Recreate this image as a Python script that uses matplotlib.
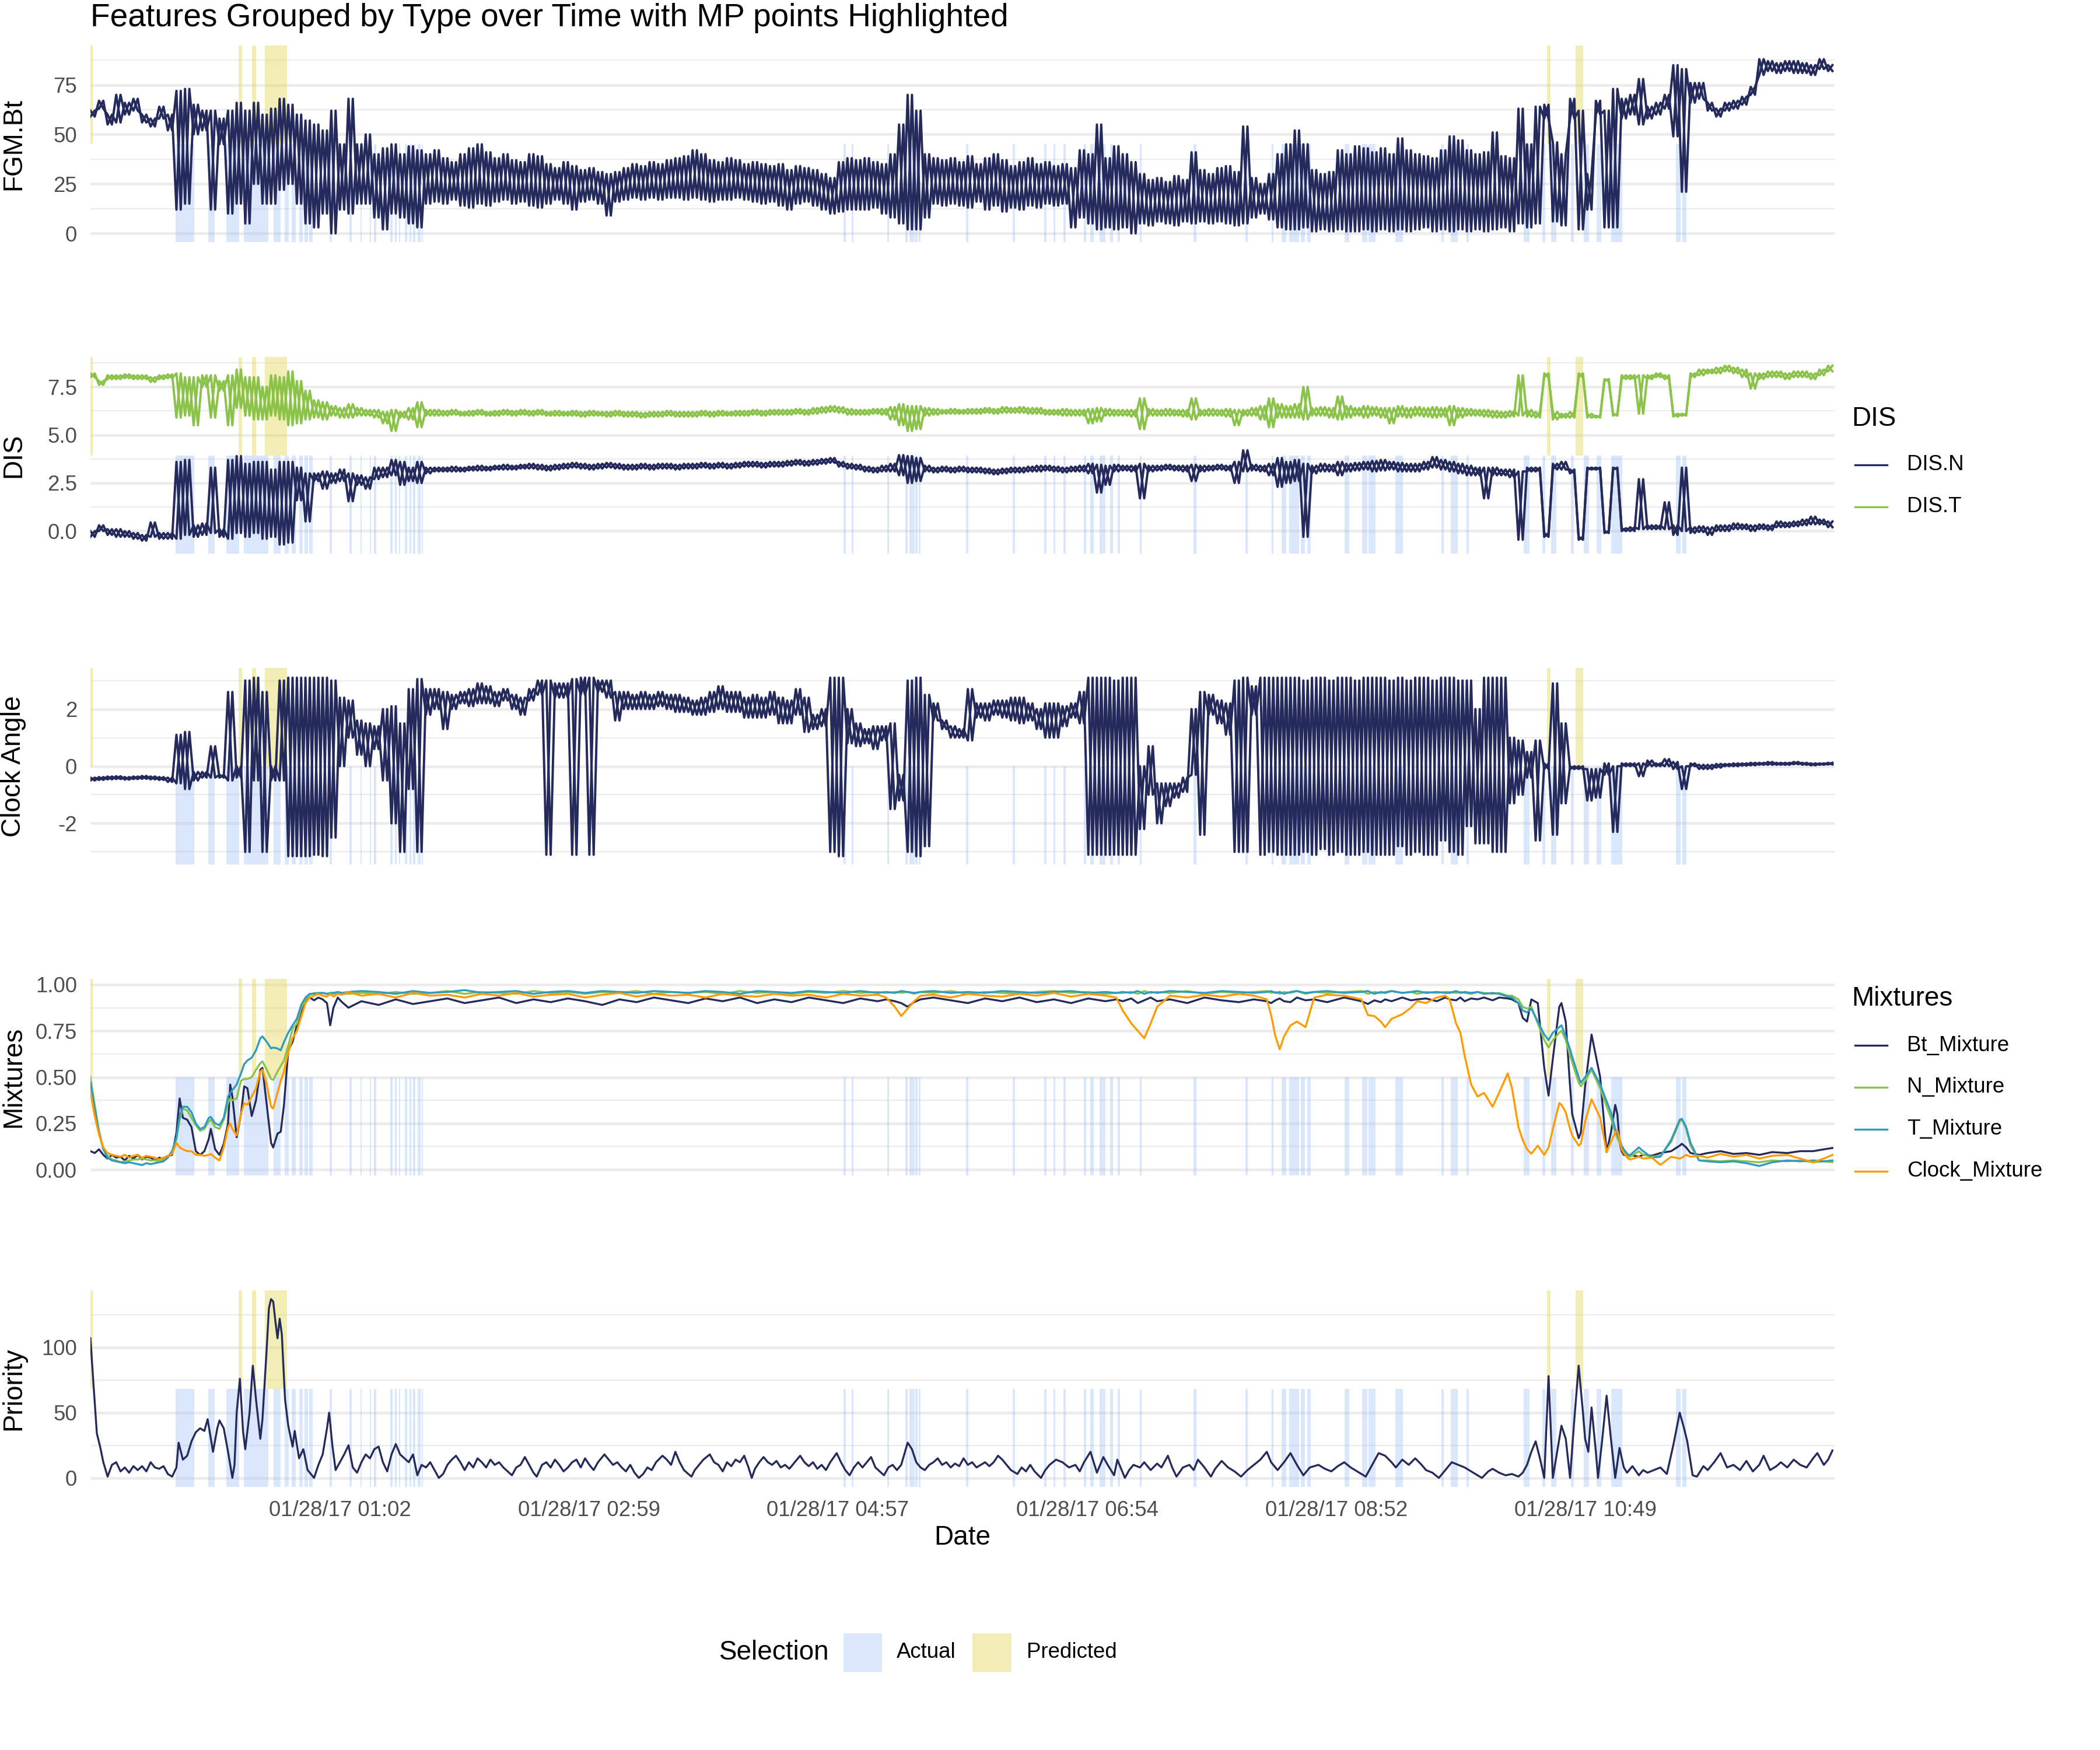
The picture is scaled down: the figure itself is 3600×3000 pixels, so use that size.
import numpy as np
import matplotlib
matplotlib.use("Agg")
import matplotlib.pyplot as plt
from matplotlib.lines import Line2D
from matplotlib.patches import Rectangle
from matplotlib.ticker import FixedLocator, FormatStrFormatter

plt.rcParams['font.family'] = ['Liberation Sans', 'DejaVu Sans']

# time axis: minutes from the first record (01/27/17 ~23:05)
step = 4  # minutes between envelope samples of the raw traces
tick_min = [116.0, 231.8, 347.6, 463.5, 579.4, 695.3]
tick_labels = ['01/28/17 01:02', '01/28/17 02:59', '01/28/17 04:57',
               '01/28/17 06:54', '01/28/17 08:52', '01/28/17 10:49']

# MP selections (minutes)
actual_start = [39.5, 54.8, 63.2, 71.3, 85.3, 90.3, 93.7, 97.1, 99.6, 101.8, 111.1, 120.5, 125.5,
                129.8, 131.7, 139.5, 141.7, 143.5, 146.3, 148.5, 150.1, 152.2, 154.1, 350.2, 354.0,
                370.5, 378.9, 380.8, 383.6, 385.1, 407.2, 428.7, 443.5, 447.8, 452.4, 461.8, 464.9,
                469.2, 474.2, 477.6, 487.9, 512.8, 537.1, 549.2, 553.9, 557.3, 562.9, 565.8, 583.2,
                591.3, 594.4, 606.8, 628.3, 632.4, 639.8, 666.3, 675.0, 679.1, 688.4, 694.3, 700.2,
                707.1, 737.3, 740.1]
actual_end = [48.3, 57.9, 69.1, 82.8, 88.4, 92.2, 95.6, 98.7, 101.2, 103.4, 112.4, 121.4, 126.1,
              130.4, 132.9, 140.4, 142.3, 144.1, 147.3, 149.1, 151.0, 153.5, 154.7, 351.2, 354.9,
              371.4, 380.1, 383.3, 384.5, 386.1, 408.2, 429.9, 444.5, 448.7, 453.4, 463.0, 466.4,
              472.0, 475.5, 478.6, 488.9, 514.4, 538.0, 550.2, 556.1, 562.0, 564.8, 567.3, 585.4,
              593.8, 597.5, 610.3, 629.3, 635.8, 640.8, 669.1, 676.6, 681.6, 689.7, 696.8, 702.4,
              712.4, 739.5, 742.0]
pred_start = [0.0, 69.0, 75.0, 81.0, 677.2, 690.6]
pred_end = [1.2, 70.4, 77.0, 91.5, 678.8, 694.0]

# FGM.Bt envelope (high / low per 4-minute sample)
fgm_hi = [62, 67, 60, 70, 66, 68, 60, 58, 64, 60,
          72, 73, 65, 62, 62, 58, 62, 66, 62, 66,
          60, 63, 68, 65, 60, 57, 55, 52, 62, 45,
          68, 45, 50, 40, 43, 45, 40, 44, 42, 40,
          42, 38, 36, 40, 43, 45, 41, 38, 40, 37,
          36, 40, 39, 35, 33, 36, 34, 32, 33, 31,
          30, 31, 33, 35, 34, 36, 35, 37, 38, 39,
          42, 40, 37, 36, 38, 37, 35, 36, 35, 34,
          35, 32, 34, 33, 32, 30, 28, 36, 38, 37,
          38, 36, 35, 40, 55, 70, 62, 40, 38, 37,
          38, 36, 39, 35, 38, 40, 37, 34, 36, 38,
          35, 36, 34, 35, 33, 42, 40, 55, 38, 44,
          40, 36, 30, 27, 28, 26, 29, 27, 41, 32,
          30, 33, 34, 31, 54, 28, 25, 30, 40, 45,
          52, 45, 32, 30, 31, 42, 40, 44, 43, 41,
          43, 40, 48, 42, 40, 39, 38, 42, 49, 47,
          42, 40, 41, 51, 39, 38, 63, 45, 64, 65,
          46, 40, 68, 62, 30, 67, 62, 73, 68, 70,
          78, 64, 66, 70, 85, 83, 76, 76, 66, 63,
          66, 67, 69, 74, 88, 87, 86, 87, 87, 86,
          85, 88, 85]
fgm_lo = [59, 63, 55, 56, 60, 62, 56, 54, 58, 52,
          12, 15, 50, 52, 12, 45, 10, 15, 5, 25,
          15, 15, 22, 25, 15, 5, 3, 10, 0, 12,
          10, 15, 15, 8, 2, 10, 8, 5, 3, 15,
          16, 15, 17, 14, 13, 15, 14, 16, 17, 15,
          16, 14, 13, 15, 17, 15, 12, 16, 17, 15,
          9, 16, 17, 18, 17, 18, 17, 18, 18, 17,
          18, 17, 16, 17, 17, 18, 17, 16, 15, 16,
          14, 12, 15, 16, 14, 12, 10, 11, 12, 12,
          12, 13, 10, 8, 5, 2, 2, 8, 15, 14,
          15, 14, 13, 16, 12, 14, 11, 13, 12, 14,
          13, 15, 14, 15, 3, 8, 5, 2, 3, 2,
          3, 0, 5, 4, 6, 5, 4, 6, 5, 6,
          5, 6, 5, 4, 5, 8, 10, 7, 3, 2,
          2, 3, 1, 2, 1, 2, 1, 1, 2, 1,
          2, 1, 2, 1, 2, 3, 1, 2, 1, 2,
          1, 2, 1, 2, 3, 1, 5, 3, 5, 58,
          6, 4, 58, 2, 12, 60, 3, 3, 58, 60,
          55, 58, 60, 63, 49, 21, 66, 68, 62, 59,
          62, 63, 65, 70, 80, 82, 81, 82, 81, 81,
          80, 83, 82]

# DIS.T envelope
dist_hi = [8.2, 7.8, 8.1, 8.1, 8.15, 8.1, 8.1, 8.0, 8.1, 8.15,
           8.2, 8.0, 8.0, 8.1, 8.1, 7.8, 8.1, 8.4, 8.0, 8.0,
           7.5, 8.1, 8.0, 8.3, 7.8, 7.3, 6.8, 6.7, 6.5, 6.4,
           6.6, 6.4, 6.3, 6.3, 6.2, 6.3, 6.2, 6.4, 6.7, 6.3,
           6.3, 6.25, 6.3, 6.2, 6.25, 6.3, 6.2, 6.25, 6.3, 6.25,
           6.3, 6.25, 6.3, 6.2, 6.25, 6.2, 6.25, 6.2, 6.25, 6.2,
           6.2, 6.25, 6.2, 6.2, 6.15, 6.2, 6.2, 6.25, 6.2, 6.2,
           6.2, 6.25, 6.2, 6.25, 6.2, 6.25, 6.25, 6.3, 6.25, 6.3,
           6.3, 6.3, 6.35, 6.3, 6.4, 6.45, 6.5, 6.45, 6.35, 6.3,
           6.3, 6.35, 6.35, 6.45, 6.6, 6.5, 6.5, 6.4, 6.35, 6.3,
           6.35, 6.3, 6.35, 6.35, 6.4, 6.35, 6.45, 6.4, 6.45, 6.4,
           6.4, 6.3, 6.3, 6.35, 6.3, 6.3, 6.35, 6.4, 6.35, 6.3,
           6.3, 6.3, 6.9, 6.35, 6.3, 6.35, 6.3, 6.3, 6.9, 6.3,
           6.35, 6.3, 6.35, 6.3, 6.3, 6.4, 6.5, 6.9, 6.6, 6.5,
           6.6, 7.5, 6.4, 6.45, 6.4, 7.0, 6.5, 6.4, 6.5, 6.45,
           6.4, 6.4, 6.5, 6.4, 6.45, 6.4, 6.45, 6.4, 6.5, 6.4,
           6.35, 6.3, 6.3, 6.25, 6.2, 6.25, 8.1, 6.3, 6.2, 8.2,
           6.2, 6.1, 6.2, 8.2, 6.1, 6.0, 7.9, 6.1, 8.1, 8.1,
           8.1, 8.1, 8.2, 8.1, 6.1, 6.1, 8.2, 8.4, 8.4, 8.5,
           8.6, 8.5, 8.4, 8.2, 8.2, 8.3, 8.3, 8.2, 8.3, 8.3,
           8.2, 8.4, 8.6]
dist_lo = [8.0, 7.6, 7.9, 7.9, 7.95, 7.9, 7.9, 7.75, 7.9, 7.95,
           5.9, 6.0, 5.5, 7.5, 5.9, 7.3, 5.5, 6.4, 6.0, 5.8,
           5.8, 6.0, 5.8, 5.5, 5.6, 5.8, 5.9, 5.8, 6.0, 5.9,
           5.9, 6.0, 6.0, 5.9, 5.6, 5.2, 5.9, 5.8, 5.4, 6.0,
           6.0, 6.0, 6.05, 6.0, 6.0, 6.05, 6.0, 6.0, 6.05, 6.0,
           6.05, 6.0, 6.05, 6.0, 6.0, 6.0, 6.0, 5.95, 6.0, 6.0,
           5.95, 6.0, 5.95, 5.95, 5.9, 5.95, 5.95, 6.0, 5.95, 5.95,
           5.95, 6.0, 5.95, 6.0, 6.0, 6.0, 6.0, 6.05, 6.0, 6.05,
           6.05, 6.05, 6.1, 6.05, 6.1, 6.15, 6.2, 6.15, 6.05, 6.05,
           6.05, 6.1, 6.05, 5.8, 5.5, 5.2, 5.3, 6.0, 6.05, 6.1,
           6.1, 6.1, 6.1, 6.1, 6.15, 6.1, 6.15, 6.15, 6.15, 6.1,
           6.1, 6.05, 6.05, 6.0, 6.0, 6.0, 5.6, 5.7, 6.0, 6.0,
           6.0, 5.95, 5.3, 6.0, 6.0, 6.0, 6.0, 5.95, 5.8, 6.0,
           6.0, 6.0, 5.95, 5.5, 6.0, 6.0, 5.8, 5.4, 5.9, 5.9,
           5.9, 5.8, 6.0, 6.0, 5.9, 5.8, 5.9, 6.0, 5.9, 6.0,
           5.9, 5.6, 5.95, 5.9, 6.0, 5.95, 5.9, 5.95, 5.5, 5.9,
           6.0, 6.0, 5.95, 5.9, 5.9, 5.95, 6.0, 5.95, 5.9, 8.0,
           5.8, 5.9, 5.9, 8.0, 5.9, 5.9, 7.8, 6.0, 7.9, 7.9,
           6.1, 7.9, 8.0, 7.9, 5.95, 6.0, 8.0, 8.1, 8.2, 8.2,
           8.3, 8.2, 8.0, 7.4, 7.9, 8.0, 8.0, 7.9, 8.0, 8.0,
           7.9, 8.1, 8.3]

# DIS.N envelope
disn_hi = [0.0, 0.3, 0.1, 0.1, 0.0, -0.1, -0.2, 0.45, -0.1, -0.1,
           3.6, 3.7, 0.3, 0.4, 3.3, 0.1, 3.7, 3.9, 3.5, 3.6,
           3.6, 3.2, 3.6, 3.6, 3.3, 3.0, 3.0, 3.1, 3.0, 3.2,
           3.0, 2.9, 2.8, 3.3, 3.3, 3.7, 3.6, 3.3, 3.6, 3.3,
           3.3, 3.3, 3.35, 3.3, 3.35, 3.4, 3.35, 3.4, 3.45, 3.4,
           3.45, 3.5, 3.45, 3.4, 3.45, 3.5, 3.55, 3.5, 3.45, 3.5,
           3.55, 3.5, 3.45, 3.45, 3.5, 3.45, 3.5, 3.5, 3.45, 3.5,
           3.5, 3.55, 3.5, 3.55, 3.5, 3.55, 3.6, 3.6, 3.55, 3.6,
           3.6, 3.65, 3.7, 3.65, 3.7, 3.75, 3.8, 3.6, 3.5, 3.45,
           3.35, 3.3, 3.4, 3.5, 3.95, 3.9, 3.8, 3.4, 3.3, 3.35,
           3.3, 3.35, 3.3, 3.3, 3.25, 3.2, 3.25, 3.3, 3.3, 3.35,
           3.4, 3.4, 3.35, 3.3, 3.35, 3.4, 3.5, 3.45, 3.4, 3.45,
           3.4, 3.4, 3.5, 3.4, 3.4, 3.45, 3.4, 3.4, 3.45, 3.4,
           3.4, 3.45, 3.4, 3.6, 4.2, 3.45, 3.4, 3.5, 3.8, 3.6,
           3.7, 3.5, 3.4, 3.5, 3.45, 3.6, 3.5, 3.55, 3.6, 3.65,
           3.7, 3.6, 3.55, 3.5, 3.5, 3.6, 3.85, 3.7, 3.6, 3.5,
           3.4, 3.3, 3.3, 3.3, 3.2, 3.2, 3.1, 3.3, 3.3, -0.1,
           3.5, 3.6, 3.2, -0.3, 3.3, 3.3, 0.0, 3.3, 0.15, 0.2,
           2.7, 0.3, 0.3, 1.5, 0.3, 3.3, 0.2, 0.25, 0.2, 0.3,
           0.3, 0.4, 0.35, 0.3, 0.35, 0.3, 0.5, 0.45, 0.5, 0.6,
           0.75, 0.6, 0.5]
disn_lo = [-0.3, 0.0, -0.2, -0.3, -0.3, -0.4, -0.5, -0.3, -0.4, -0.4,
           -0.4, -0.2, -0.3, -0.2, -0.1, -0.3, -0.4, -0.1, -0.3, -0.1,
           -0.4, -0.3, -0.7, -0.6, 1.6, 0.5, 2.6, 2.2, 2.5, 2.6,
           1.55, 2.4, 2.2, 2.7, 2.8, 2.9, 2.4, 2.6, 2.5, 3.0,
           3.1, 3.1, 3.1, 3.1, 3.15, 3.15, 3.15, 3.2, 3.2, 3.2,
           3.25, 3.25, 3.2, 3.15, 3.2, 3.25, 3.3, 3.25, 3.2, 3.25,
           3.3, 3.25, 3.2, 3.2, 3.25, 3.2, 3.25, 3.25, 3.2, 3.25,
           3.25, 3.3, 3.25, 3.3, 3.25, 3.3, 3.35, 3.35, 3.3, 3.35,
           3.35, 3.4, 3.45, 3.4, 3.45, 3.5, 3.55, 3.35, 3.25, 3.2,
           3.1, 3.05, 3.1, 3.1, 2.9, 2.5, 2.6, 3.1, 3.05, 3.1,
           3.05, 3.1, 3.05, 3.05, 3.0, 2.95, 3.0, 3.05, 3.05, 3.1,
           3.1, 3.15, 3.1, 3.05, 3.1, 3.1, 3.0, 2.0, 2.4, 3.1,
           3.15, 3.1, 1.7, 3.1, 3.15, 3.2, 3.15, 3.1, 2.6, 3.1,
           3.15, 3.2, 3.15, 2.5, 3.1, 3.15, 3.1, 2.9, 2.3, 2.5,
           2.6, -0.3, 3.0, 3.1, 3.1, 2.9, 3.1, 3.15, 3.2, 3.1,
           3.15, 3.2, 3.1, 3.1, 3.1, 3.2, 3.3, 3.2, 3.1, 3.0,
           2.9, 2.9, 1.7, 2.9, 2.9, 2.8, -0.45, 3.1, 3.1, -0.3,
           3.2, 3.2, 3.0, -0.45, 3.2, 3.2, -0.1, 3.2, 0.0, 0.0,
           0.1, 0.1, 0.1, 0.1, -0.2, 0.0, -0.1, -0.05, -0.2, 0.0,
           0.0, 0.1, 0.1, 0.0, 0.1, 0.05, 0.2, 0.2, 0.25, 0.3,
           0.35, 0.35, 0.2]

# Clock Angle envelope
clock_hi = [-0.4, -0.38, -0.36, -0.35, -0.38, -0.36, -0.34, -0.36, -0.38, -0.4,
            1.1, 1.2, -0.2, -0.2, 0.7, -0.3, 2.6, 0.0, 3.0, 3.1,
            2.6, 0.0, 3.0, 3.1, 3.1, 3.1, 3.1, 3.1, 3.0, 2.4,
            2.3, 1.6, 1.5, 1.4, 2.0, 2.1, 1.5, 2.7, 3.05, 2.7,
            2.7, 2.6, 2.5, 2.6, 2.7, 2.9, 2.8, 2.6, 2.7, 2.5,
            2.4, 2.7, 3.0, 3.0, 2.9, 2.9, 3.05, 3.1, 3.1, 3.0,
            3.0, 2.6, 2.6, 2.5, 2.6, 2.5, 2.6, 2.5, 2.5, 2.4,
            2.3, 2.4, 2.6, 2.8, 2.6, 2.6, 2.4, 2.5, 2.4, 2.6,
            2.4, 2.3, 2.7, 2.4, 1.8, 2.0, 3.1, 3.1, 2.0, 1.5,
            1.3, 1.4, 1.4, 1.5, -0.3, 3.0, 3.1, 2.5, 2.2, 1.6,
            1.4, 1.3, 2.7, 2.2, 2.2, 2.3, 2.3, 2.4, 2.4, 2.2,
            2.0, 2.2, 2.2, 2.1, 2.2, 2.6, 3.1, 3.1, 3.1, 3.0,
            3.1, 3.1, 0.0, 0.7, -0.6, -0.6, -0.6, -0.4, 2.0, 2.6,
            2.5, 2.3, 2.2, 3.0, 3.1, 2.8, 3.1, 3.1, 3.1, 3.1,
            3.1, 3.0, 3.1, 3.1, 3.0, 3.1, 3.1, 3.0, 3.1, 3.1,
            3.1, 3.0, 3.1, 3.0, 3.1, 3.1, 3.0, 3.1, 3.1, 3.0,
            3.0, 2.0, 3.1, 3.1, 3.1, 1.0, 0.9, 0.5, 0.9, 0.1,
            2.9, 1.5, 0.0, 0.0, -0.1, -0.1, 0.1, 0.0, 0.1, 0.1,
            0.1, 0.2, 0.1, 0.25, 0.15, 0.0, 0.1, 0.05, 0.05, 0.08,
            0.08, 0.1, 0.1, 0.12, 0.12, 0.15, 0.12, 0.12, 0.15, 0.12,
            0.1, 0.1, 0.12]
clock_lo = [-0.5, -0.48, -0.46, -0.45, -0.47, -0.45, -0.44, -0.46, -0.48, -0.55,
            -0.6, -0.8, -0.5, -0.4, -0.4, -0.4, -0.5, -0.4, -3.0, -0.5,
            -3.0, -0.5, -0.5, -3.15, -3.15, -3.15, -3.1, -3.15, -2.5, 0.0,
            1.0, 0.4, 0.0, 0.6, -0.5, -2.0, -3.0, -0.8, -3.0, 1.8,
            2.0, 1.3, 2.0, 2.2, 2.1, 2.2, 2.2, 2.1, 2.3, 2.0,
            1.8, 2.3, 2.5, -3.1, 2.4, 2.4, -3.1, 2.5, -3.1, 2.6,
            2.4, 1.6, 2.0, 2.0, 2.0, 2.0, 2.1, 2.0, 1.9, 1.9,
            1.8, 1.8, 1.9, 2.0, 1.9, 1.9, 1.7, 1.7, 1.7, 1.8,
            1.5, 1.5, 1.8, 1.2, 1.3, 1.4, -3.0, -3.15, 0.8, 0.7,
            0.8, 0.6, 0.9, -1.5, -1.2, -3.0, -3.15, -2.8, 1.6, 1.3,
            1.0, 1.0, 0.9, 1.7, 1.6, 1.8, 1.7, 1.6, 1.5, 1.6,
            1.3, 1.0, 1.0, 1.4, 1.7, 1.5, -3.1, -3.1, -3.1, -3.1,
            -3.1, -3.1, -2.2, -1.0, -2.0, -1.4, -1.1, -0.9, -0.3, -2.4,
            1.8, 1.5, 1.1, -3.0, -3.0, 1.8, -3.1, -3.0, -3.1, -3.1,
            -3.1, -3.0, -3.1, -2.9, -3.1, -3.0, -3.1, -3.1, -3.0, -3.1,
            -3.1, -3.1, -2.8, -3.1, -3.0, -3.1, -3.1, -2.6, -3.0, -3.1,
            -2.1, -2.7, -2.7, -3.0, -3.0, -1.3, -1.0, -0.4, -2.6, -0.1,
            -2.4, -1.3, -0.1, -0.1, -1.2, -1.1, -0.3, -2.3, 0.0, 0.0,
            -0.35, 0.0, 0.0, 0.0, -0.1, -0.8, 0.0, -0.1, -0.1, -0.05,
            0.0, 0.0, 0.02, 0.03, 0.05, 0.05, 0.05, 0.05, 0.07, 0.05,
            0.03, 0.05, 0.06]

# Mixtures (smoothed, read at these minutes)
mix_t = [0, 2, 4, 6, 8, 10, 12, 14, 16, 18, 20, 22, 24, 26, 28, 30, 32, 34, 36, 38, 40,
         41.5, 43, 45, 47, 49, 51, 53, 55, 56, 58, 60, 62, 64, 65, 66, 68, 70, 71.5, 73, 75,
         77, 79, 80, 82, 84, 85, 87, 88.5, 90, 92, 94, 96, 98, 100, 102, 104, 106, 108, 110,
         111.5, 113, 115, 117, 120,
         126, 134, 142, 150, 158, 166, 174, 182, 190, 198, 206, 214, 222, 230, 238, 246, 254,
         262, 270, 278, 286, 294, 302, 310, 318, 326, 334, 342, 350, 358, 366,
         370, 374, 377, 380, 383, 386, 392, 400, 408, 416, 424, 432, 440, 448, 456, 464, 472, 477,
         480, 484, 487, 490, 493, 496, 502, 510, 518, 526, 534, 541, 547, 549, 551, 553, 555,
         558, 561, 565, 569, 575, 583, 591, 594, 597, 600, 602, 605, 610, 614, 617, 621, 626, 630,
         632, 635, 637, 639, 642, 645, 648, 652, 655, 659, 661, 664, 666, 668, 670, 673, 676,
         678, 680, 683, 684, 686, 688, 689, 692, 693, 695, 698, 702, 705, 707, 709, 710, 711,
         712, 713, 715, 716, 720,
         722, 726, 730, 735, 739, 740, 742, 744, 748, 752, 758, 764, 770, 776, 782, 789, 795,
         801, 806, 810]
bt_mix = [0.10, 0.09, 0.11, 0.08, 0.06, 0.08, 0.065, 0.07, 0.05, 0.075, 0.06, 0.08, 0.055, 0.07,
          0.065, 0.05, 0.065, 0.055, 0.075, 0.08, 0.20,
          0.385, 0.28, 0.27, 0.23, 0.10, 0.08, 0.10, 0.165, 0.22, 0.11, 0.08, 0.14, 0.25, 0.46,
          0.395, 0.175, 0.30, 0.45, 0.44, 0.29, 0.375, 0.54, 0.55, 0.35, 0.145, 0.12, 0.195,
          0.205, 0.35, 0.645, 0.69, 0.78, 0.845, 0.91, 0.93, 0.915, 0.93, 0.92, 0.90, 0.78,
          0.875, 0.93, 0.905, 0.875,
          0.91, 0.89, 0.92, 0.895, 0.91, 0.925, 0.90, 0.915, 0.93, 0.90, 0.92, 0.905, 0.925, 0.91,
          0.89, 0.92, 0.905, 0.93, 0.915, 0.90, 0.925, 0.91, 0.93, 0.90, 0.92, 0.905, 0.93, 0.915,
          0.90, 0.925, 0.91,
          0.92, 0.91, 0.90, 0.88, 0.905, 0.92, 0.93, 0.915, 0.90, 0.925, 0.91, 0.93, 0.905, 0.92,
          0.90, 0.925, 0.91, 0.92,
          0.91, 0.925, 0.90, 0.915, 0.93, 0.91, 0.92, 0.90, 0.93, 0.915, 0.905, 0.92, 0.91, 0.90,
          0.915, 0.925, 0.91, 0.905, 0.93, 0.915, 0.92, 0.905, 0.93, 0.91, 0.895, 0.915, 0.905,
          0.92, 0.91, 0.93, 0.915, 0.92, 0.925, 0.91, 0.93,
          0.92, 0.915, 0.93, 0.91, 0.925, 0.92, 0.93, 0.915, 0.93, 0.925, 0.92, 0.90, 0.82, 0.80,
          0.92, 0.90, 0.55, 0.40, 0.60, 0.88, 0.90, 0.80, 0.45, 0.30, 0.17, 0.20, 0.45, 0.73,
          0.50, 0.095, 0.20, 0.35, 0.30, 0.15, 0.10, 0.08, 0.075, 0.08, 0.07,
          0.08, 0.075, 0.09, 0.10, 0.13, 0.14, 0.12, 0.09, 0.08, 0.09, 0.10, 0.085, 0.09, 0.08,
          0.095, 0.09, 0.10, 0.10, 0.11, 0.117]
n_mix = [0.50, 0.35, 0.21, 0.11, 0.075, 0.055, 0.05, 0.04, 0.045, 0.05, 0.055, 0.055, 0.06, 0.055,
         0.05, 0.05, 0.045, 0.055, 0.07, 0.10, 0.165,
         0.27, 0.33, 0.32, 0.28, 0.24, 0.21, 0.22, 0.26, 0.27, 0.23, 0.22, 0.27, 0.36, 0.385,
         0.375, 0.385, 0.48, 0.49, 0.49, 0.50, 0.54, 0.575, 0.585, 0.54, 0.49, 0.485, 0.53,
         0.56, 0.59, 0.67, 0.76, 0.79, 0.875, 0.92, 0.945, 0.955, 0.95, 0.955, 0.95, 0.945,
         0.95, 0.955, 0.95, 0.95,
         0.955, 0.95, 0.96, 0.95, 0.955, 0.965, 0.95, 0.96, 0.955, 0.95, 0.965, 0.955, 0.96, 0.95,
         0.96, 0.955, 0.965, 0.95, 0.96, 0.955, 0.96, 0.95, 0.965, 0.955, 0.96, 0.95, 0.96, 0.955,
         0.965, 0.955, 0.96,
         0.955, 0.96, 0.955, 0.96, 0.95, 0.96, 0.955, 0.965, 0.95, 0.96, 0.955, 0.95, 0.96, 0.965,
         0.955, 0.96, 0.95, 0.955,
         0.955, 0.96, 0.95, 0.965, 0.955, 0.96, 0.955, 0.965, 0.95, 0.96, 0.955, 0.96, 0.965,
         0.955, 0.96, 0.95, 0.96, 0.955, 0.965, 0.95, 0.96, 0.955, 0.96, 0.965, 0.95, 0.96,
         0.955, 0.96, 0.965, 0.955, 0.96, 0.95, 0.96, 0.955, 0.96,
         0.96, 0.955, 0.96, 0.955, 0.95, 0.96, 0.955, 0.95, 0.955, 0.94, 0.94, 0.92, 0.88, 0.87,
         0.88, 0.79, 0.70, 0.66, 0.70, 0.74, 0.75, 0.70, 0.615, 0.58, 0.47, 0.45, 0.48, 0.54,
         0.44, 0.34, 0.28, 0.20, 0.17, 0.145, 0.12, 0.10, 0.07, 0.07, 0.10,
         0.08, 0.07, 0.075, 0.15, 0.26, 0.27, 0.22, 0.13, 0.05, 0.05, 0.045, 0.05, 0.045, 0.04,
         0.05, 0.045, 0.05, 0.04, 0.045, 0.04]
t_mix = [0.47, 0.33, 0.20, 0.11, 0.065, 0.05, 0.045, 0.04, 0.035, 0.04, 0.035, 0.03, 0.025, 0.035,
         0.03, 0.035, 0.04, 0.045, 0.065, 0.10, 0.175,
         0.29, 0.34, 0.34, 0.31, 0.25, 0.22, 0.23, 0.28, 0.285, 0.25, 0.24, 0.28, 0.395, 0.415,
         0.43, 0.46, 0.52, 0.57, 0.59, 0.605, 0.645, 0.71, 0.72, 0.69, 0.655, 0.66, 0.655,
         0.645, 0.69, 0.74, 0.78, 0.815, 0.89, 0.93, 0.95, 0.95, 0.955, 0.955, 0.95, 0.955,
         0.955, 0.96, 0.955, 0.96,
         0.965, 0.96, 0.95, 0.965, 0.955, 0.96, 0.97, 0.955, 0.96, 0.965, 0.95, 0.96, 0.965,
         0.955, 0.965, 0.96, 0.955, 0.965, 0.96, 0.955, 0.965, 0.96, 0.95, 0.965, 0.96, 0.955,
         0.965, 0.96, 0.955, 0.965, 0.955,
         0.96, 0.955, 0.965, 0.96, 0.955, 0.96, 0.965, 0.955, 0.96, 0.955, 0.965, 0.96, 0.955,
         0.96, 0.965, 0.955, 0.96, 0.955,
         0.96, 0.955, 0.965, 0.95, 0.96, 0.955, 0.965, 0.96, 0.955, 0.965, 0.96, 0.955, 0.96,
         0.965, 0.955, 0.96, 0.95, 0.96, 0.965, 0.955, 0.96, 0.965, 0.955, 0.96, 0.965, 0.95,
         0.96, 0.955, 0.965, 0.955, 0.96, 0.965, 0.955, 0.96, 0.955,
         0.955, 0.965, 0.955, 0.96, 0.955, 0.96, 0.95, 0.955, 0.95, 0.935, 0.93, 0.90, 0.86,
         0.85, 0.87, 0.80, 0.73, 0.70, 0.74, 0.77, 0.78, 0.72, 0.65, 0.61, 0.50, 0.47, 0.50,
         0.55, 0.46, 0.37, 0.31, 0.22, 0.19, 0.165, 0.13, 0.11, 0.08, 0.08, 0.12,
         0.10, 0.065, 0.07, 0.16, 0.27, 0.275, 0.23, 0.145, 0.05, 0.045, 0.04, 0.045, 0.035,
         0.02, 0.04, 0.05, 0.045, 0.05, 0.045, 0.05]
clock_mix = [0.42, 0.29, 0.19, 0.12, 0.09, 0.08, 0.075, 0.07, 0.08, 0.065, 0.075, 0.08, 0.065,
             0.075, 0.07, 0.065, 0.055, 0.065, 0.075, 0.085, 0.145,
             0.12, 0.11, 0.10, 0.10, 0.08, 0.08, 0.075, 0.08, 0.085, 0.065, 0.05, 0.12, 0.23,
             0.25, 0.22, 0.185, 0.30, 0.36, 0.35, 0.395, 0.44, 0.53, 0.54, 0.46, 0.34, 0.33,
             0.415, 0.48, 0.53, 0.635, 0.71, 0.75, 0.825, 0.90, 0.93, 0.94, 0.95, 0.94, 0.935,
             0.95, 0.935, 0.95, 0.945, 0.96,
             0.94, 0.95, 0.93, 0.955, 0.94, 0.945, 0.93, 0.95, 0.94, 0.955, 0.935, 0.945, 0.95,
             0.93, 0.945, 0.955, 0.935, 0.95, 0.94, 0.945, 0.93, 0.95, 0.94, 0.935, 0.95, 0.94,
             0.945, 0.93, 0.95, 0.94, 0.945,
             0.93, 0.88, 0.83, 0.87, 0.91, 0.94, 0.945, 0.93, 0.95, 0.94, 0.935, 0.95, 0.94,
             0.955, 0.935, 0.95, 0.94, 0.93,
             0.86, 0.79, 0.75, 0.71, 0.79, 0.88, 0.94, 0.93, 0.945, 0.935, 0.95, 0.94, 0.92,
             0.835, 0.72, 0.65, 0.72, 0.78, 0.80, 0.77, 0.93, 0.945, 0.94, 0.92, 0.835, 0.83,
             0.80, 0.77, 0.815, 0.84, 0.875, 0.91, 0.90, 0.93, 0.94,
             0.92, 0.79, 0.74, 0.615, 0.46, 0.395, 0.415, 0.34, 0.415, 0.52, 0.44, 0.23, 0.16,
             0.11, 0.086, 0.13, 0.08, 0.12, 0.22, 0.36, 0.35, 0.31, 0.22, 0.185, 0.13, 0.14,
             0.26, 0.38, 0.28, 0.095, 0.15, 0.20, 0.21, 0.17, 0.11, 0.09, 0.06, 0.055, 0.07,
             0.06, 0.065, 0.026, 0.07, 0.06, 0.065, 0.08, 0.07, 0.075, 0.065, 0.086, 0.07, 0.08,
             0.06, 0.075, 0.08, 0.06, 0.04, 0.06, 0.08]

# Priority (minute, value)
priority_pts = [
    (0, 107), (1.5, 70), (3, 34), (4.5, 24), (6, 12), (8, 1), (10, 10), (12, 12), (14, 5), (16, 8),
    (18, 4), (20, 9), (22, 6), (24, 9), (26, 5), (28, 12), (30, 8), (32, 7), (34, 9), (36, 3),
    (38, 1), (40, 8), (41, 27), (43, 14), (45, 17), (47, 28), (49, 35), (51, 38), (53, 36), (54.5, 45),
    (56, 30), (57, 20), (59, 38), (60, 44), (62, 38), (64, 20), (66, 0), (67, 10), (68, 50), (69.5, 76),
    (71, 35), (72, 22), (74, 50), (75.5, 86), (77, 60), (79, 30), (80, 45), (82, 100), (83, 130), (84, 137),
    (85, 135), (86, 120), (87, 107), (88, 122), (89, 110), (90.5, 60), (92, 40), (94, 24), (95, 36), (97, 15),
    (99, 22), (101, 6), (104, 0), (106, 10), (108, 18), (110, 38), (111, 50), (112.5, 25), (114, 6), (116, 12),
    (118, 18), (120, 25), (122, 8), (124, 4), (126, 12), (128, 18), (130, 15), (132, 22), (134, 24), (136, 12),
    (138, 5), (140, 18), (142, 26), (144, 18), (146, 15), (148, 12), (150, 18), (152, 2), (154, 10), (156, 8),
    (158, 12), (160, 6), (162, 0), (164, 3), (166, 10), (168, 14), (170, 17), (172, 12), (174, 6), (176, 12),
    (178, 8), (180, 15), (182, 12), (184, 8), (186, 14), (188, 10), (190, 12), (192, 8), (194, 5), (196, 2),
    (198, 8), (200, 10), (202, 16), (204, 10), (206, 4), (207.5, 1), (210, 10), (212, 12), (214, 8), (216, 14),
    (218, 10), (220, 5), (222, 8), (224, 12), (226, 14), (228, 8), (230, 15), (232, 10), (234, 6), (236, 12),
    (239, 18), (241, 14), (243, 10), (245, 12), (247, 8), (249, 5), (251, 10), (253, 4), (255, 0), (257, 3),
    (259, 8), (261, 6), (263, 12), (266, 17), (268, 14), (270, 10), (272, 20), (274, 12), (276, 6), (278, 3),
    (279.5, 1), (281, 6), (283, 10), (285, 14), (288, 18), (290, 12), (292, 10), (294, 5), (296, 12), (298, 9),
    (300, 14), (302, 12), (304, 17), (306, 8), (307.5, 0), (309, 7), (311, 12), (313, 16), (315, 12), (317, 10),
    (319, 13), (321, 8), (323, 10), (325, 7), (327, 11), (330, 17), (332, 12), (334, 9), (336, 12), (338, 7),
    (340, 10), (342, 6), (344, 12), (347, 19), (349, 12), (351, 6), (353, 2), (355, 8), (357, 12), (359, 8),
    (361, 12), (363, 16), (365, 8), (367, 5), (369, 2), (371, 8), (373, 10), (375, 6), (377, 10), (380, 27),
    (382, 22), (384, 12), (386, 8), (388, 6), (390, 10), (392, 12), (394, 15), (396, 10), (398, 12), (400, 8),
    (402, 11), (404, 9), (406, 15), (408, 10), (410, 12), (412, 8), (414, 10), (416, 12), (418, 9), (420, 12),
    (422, 17), (424, 14), (426, 10), (428, 6), (431, 3), (433, 8), (435, 5), (437, 10), (439, 5), (442, 0),
    (444, 6), (446, 10), (449, 14), (452, 12), (455, 8), (458, 10), (460, 5), (462, 12), (465, 20), (468, 4),
    (471, 16), (473, 10), (476, 2), (477.5, 14), (479, 8), (481, 0), (483, 6), (485, 10), (488, 8), (490, 12),
    (493, 6), (496, 11), (498, 8), (501, 17), (503, 8), (505, 1), (508, 8), (511, 10), (513, 6), (515, 14),
    (518, 8), (521, 1), (523, 7), (526, 13), (529, 8), (532, 5), (535, 1), (538, 6), (541, 10), (544, 14),
    (547, 20), (549, 12), (552, 6), (555, 12), (558, 19), (561, 10), (564, 2), (567, 8), (571, 10), (574, 7),
    (577, 5), (580, 9), (583, 12), (586, 8), (590, 4), (593, 1), (596, 10), (599, 19), (602, 17), (605, 12),
    (607, 8), (610, 14), (613, 10), (616, 15), (619, 10), (621, 6), (624, 4), (627, 0), (630, 6), (633, 12),
    (636, 10), (639, 8), (642, 5), (645, 2), (647, 0), (650, 5), (652, 7), (655, 4), (658, 2), (661, 3),
    (664, 1), (666, 4), (668, 10), (670, 20), (672, 28), (674, 15), (676, 0), (678, 78), (680, 0), (682, 20),
    (684, 40), (686, 30), (688, 0), (690, 45), (692, 86), (694, 50), (695, 30), (696.5, 20), (698, 54), (700, 20),
    (701, 0), (703, 30), (705, 63), (707, 30), (709, 0), (711, 23), (713, 8), (714.5, 4), (717, 9), (720, 2),
    (722, 6), (724, 4), (727, 6), (730, 8), (733, 3), (736, 25), (739, 50), (741, 38), (742.5, 28), (745, 2),
    (747, 1), (750, 9), (752, 6), (755, 12), (758, 19), (761, 8), (764, 10), (767, 6), (770, 13), (773, 5),
    (776, 10), (778, 17), (781, 6), (784, 9), (786, 12), (789, 8), (792, 14), (795, 10), (798, 8), (801, 15),
    (803, 19), (806, 10), (808, 14), (810, 21)]

# ---- style ----
navy = '#252a5c'
green = '#8bc34a'
teal = '#2e9bbf'
orange = '#ff9b00'
band_blue = '#a9c4f7'
band_yellow = '#e5dc6c'
txt_grey = '#4d4d4d'
grid_col = '#ebebeb'
LW = 0.8
LW_RAW = 0.95


def raw_trace(ax, hi, lo, color):
    # the raw traces are drawn from their high/low readings, crossing in both
    # phases so the dense noise reads as a filled band like the original
    hi = np.asarray(hi, float)
    lo = np.asarray(lo, float)
    t = np.arange(len(hi)) * step
    x = np.empty(2 * len(hi))
    x[0::2] = t
    x[1::2] = t + step / 2
    for a, b in ((hi, lo), (lo, hi)):
        y = np.empty(2 * len(hi))
        y[0::2] = a
        y[1::2] = b
        ax.plot(x, y, color=color, lw=LW_RAW, zorder=3)


fig = plt.figure(figsize=(12, 10), dpi=300)
W, H = 3600.0, 3000.0
left, right = 155 / W, 3145 / W
tops = [78, 612, 1145, 1678, 2212]
ph = 337

axes = []
for top in tops:
    ax = fig.add_axes([left, 1 - (top + ph) / H, right - left, ph / H])
    axes.append(ax)


def setup(ax, ylim, major, minor, fmt):
    ax.set_xlim(0, 811)
    ax.set_ylim(*ylim)
    ax.yaxis.set_major_locator(FixedLocator(major))
    ax.yaxis.set_minor_locator(FixedLocator(minor))
    ax.yaxis.set_major_formatter(FormatStrFormatter(fmt))
    ax.set_xticks(tick_min)
    ax.set_xticklabels([])
    ax.grid(True, which='major', axis='y', color=grid_col, lw=1.1)
    ax.grid(True, which='minor', axis='y', color=grid_col, lw=0.55)
    ax.set_axisbelow(True)
    for s in ax.spines.values():
        s.set_visible(False)
    ax.tick_params(axis='both', which='both', length=0, labelsize=8.8,
                   labelcolor=txt_grey, pad=5.5)
    for a, b in zip(actual_start, actual_end):
        ax.axvspan(a, b, ymin=0, ymax=0.5, facecolor=band_blue, alpha=0.42, lw=0, zorder=1)
    for a, b in zip(pred_start, pred_end):
        ax.axvspan(a, b, ymin=0.5, ymax=1, facecolor=band_yellow, alpha=0.5, lw=0, zorder=1)


ax1, ax2, ax3, ax4, ax5 = axes

setup(ax1, (-4.4, 94.9), [0, 25, 50, 75], [12.5, 37.5, 62.5, 87.5], '%g')
raw_trace(ax1, fgm_hi, fgm_lo, navy)

setup(ax2, (-1.17, 9.05), [0, 2.5, 5, 7.5], [1.25, 3.75, 6.25, 8.75], '%.1f')
raw_trace(ax2, disn_hi, disn_lo, navy)
raw_trace(ax2, dist_hi, dist_lo, green)

setup(ax3, (-3.44, 3.44), [-2, 0, 2], [-3, -1, 1, 3], '%g')
raw_trace(ax3, clock_hi, clock_lo, navy)

setup(ax4, (-0.031, 1.031), [0, 0.25, 0.5, 0.75, 1.0], [0.125, 0.375, 0.625, 0.875], '%.2f')
ax4.plot(mix_t, bt_mix, color=navy, lw=LW, zorder=3)
ax4.plot(mix_t, n_mix, color=green, lw=LW, zorder=3)
ax4.plot(mix_t, t_mix, color=teal, lw=LW, zorder=3)
ax4.plot(mix_t, clock_mix, color=orange, lw=LW, zorder=3)

setup(ax5, (-6.9, 143.7), [0, 50, 100], [25, 75, 125], '%g')
pt, pv = np.array(priority_pts, float).T
ax5.plot(pt, pv, color=navy, lw=LW, zorder=3)
ax5.set_xticklabels(tick_labels)

# titles and axis labels
fig.text(left, 1 - 45 / H, 'Features Grouped by Type over Time with MP points Highlighted',
         fontsize=13.2, ha='left', va='baseline')
for ax, lab in zip(axes, ['FGM.Bt', 'DIS', 'Clock Angle', 'Mixtures', 'Priority']):
    pos = ax.get_position()
    fig.text(23 / W, pos.y0 + pos.height / 2, lab, rotation=90, fontsize=11,
             ha='center', va='center')
fig.text((left + right) / 2, 1 - 2636 / H, 'Date', fontsize=11, ha='center', va='center')


# right-hand legends
def line_legend(title, title_y, items):
    fig.text(3174 / W, 1 - title_y / H, title, fontsize=11, ha='left', va='center')
    for i, (lab, col) in enumerate(items):
        yy = 1 - (title_y + 79.5 + 72 * i) / H
        fig.add_artist(Line2D([3180 / W, 3235 / W], [yy, yy], color=col, lw=LW,
                              transform=fig.transFigure))
        fig.text(3269 / W, yy, lab, fontsize=8.8, ha='left', va='center')


line_legend('DIS', 717.5, [('DIS.N', navy), ('DIS.T', green)])
line_legend('Mixtures', 1712.5, [('Bt_Mixture', navy), ('N_Mixture', green),
                                 ('T_Mixture', teal), ('Clock_Mixture', orange)])

# bottom legend
ly = 1 - 2833 / H
fig.text(1233 / W, ly, 'Selection', fontsize=11, ha='left', va='center')
fig.add_artist(Rectangle((1446 / W, 1 - 2866 / H), 66 / W, 66 / H, facecolor=band_blue,
                         alpha=0.42, lw=0, transform=fig.transFigure))
fig.text(1537 / W, ly, 'Actual', fontsize=8.8, ha='left', va='center')
fig.add_artist(Rectangle((1667 / W, 1 - 2866 / H), 67 / W, 66 / H, facecolor=band_yellow,
                         alpha=0.5, lw=0, transform=fig.transFigure))
fig.text(1760 / W, ly, 'Predicted', fontsize=8.8, ha='left', va='center')

fig.savefig('out.png', dpi=300)
